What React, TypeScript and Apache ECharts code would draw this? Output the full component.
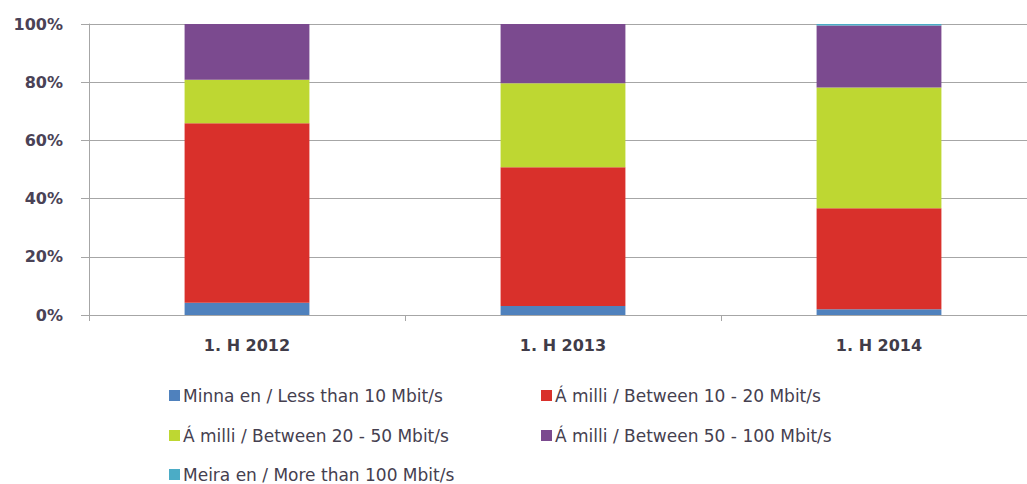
import React, { useEffect, useRef } from "react";
import * as echarts from "echarts";

const categories = ["1. H 2012", "1. H 2013", "1. H 2014"];
const seriesNames = [
  "Minna en / Less than 10 Mbit/s",
  "Á milli / Between 10 - 20 Mbit/s",
  "Á milli / Between 20 - 50 Mbit/s",
  "Á milli / Between 50 - 100 Mbit/s",
  "Meira en / More than 100 Mbit/s",
];
const lessThan10 = [4.2, 3.1, 2.0];
const between10_20 = [61.7, 47.7, 34.7];
const between20_50 = [14.9, 28.8, 41.5];
const between50_100 = [19.2, 20.4, 21.3];
const moreThan100 = [0, 0, 0.5];
const yTicks = [0, 20, 40, 60, 80, 100];

const colors = ["#4f81bd", "#d9302b", "#bed732", "#7b4a8f", "#4bacc6"];
const seriesData = [lessThan10, between10_20, between20_50, between50_100, moreThan100];

export default function App() {
  const ref = useRef<HTMLDivElement>(null);
  useEffect(() => {
    if (!ref.current) return;
    const chart = echarts.init(ref.current, null, { renderer: "svg" });
    const legendPos = [
      { left: 164, top: 382 },
      { left: 536, top: 382 },
      { left: 164, top: 422 },
      { left: 536, top: 422 },
      { left: 164, top: 461 },
    ];
    chart.setOption({
      animation: false,
      textStyle: { fontFamily: "DejaVu Sans" },
      grid: {
        left: 89,
        width: 948,
        top: 24,
        height: 291,
        containLabel: false,
        outerBoundsMode: "none",
      },
      legend: seriesNames.map((n, i) => ({
        data: [n],
        left: legendPos[i].left,
        top: legendPos[i].top,
        itemWidth: 11,
        itemHeight: 11,
        itemGap: 4,
        icon: "rect",
        textStyle: { fontFamily: "DejaVu Sans", fontSize: 17, color: "#45404f", padding: [0, 0, 0, -2] },
      })),
      xAxis: {
        type: "category",
        data: categories,
        axisLine: { show: true, lineStyle: { color: "#a6a6a6", width: 1 } },
        axisTick: { show: true, alignWithLabel: false, length: 6, lineStyle: { color: "#a6a6a6" } },
        axisLabel: { color: "#403c48", fontSize: 16, fontWeight: "bold", margin: 22, fontFamily: "DejaVu Sans" },
      },
      yAxis: {
        type: "value",
        min: 0,
        max: 100,
        interval: 20,
        axisLine: { show: true, lineStyle: { color: "#a6a6a6" } },
        axisTick: { show: true, length: 8, lineStyle: { color: "#a6a6a6" } },
        splitLine: { show: true, lineStyle: { color: "#a6a6a6", width: 1 } },
        axisLabel: {
          color: "#4a4256",
          fontSize: 16,
          fontWeight: "bold",
          margin: 26,
          fontFamily: "DejaVu Sans",
          formatter: (v: number) => (yTicks.includes(v) ? v + "%" : ""),
        },
      },
      series: seriesNames.map((n, i) => ({
        name: n,
        type: "bar",
        stack: "total",
        barWidth: "39.5%",
        data: seriesData[i],
        itemStyle: { color: colors[i] },
      })),
    });
    return () => chart.dispose();
  }, []);
  return (
    <div
      ref={ref}
      style={{ position: "fixed", left: 0, top: 0, width: 1027, height: 484, background: "#ffffff" }}
    />
  );
}
